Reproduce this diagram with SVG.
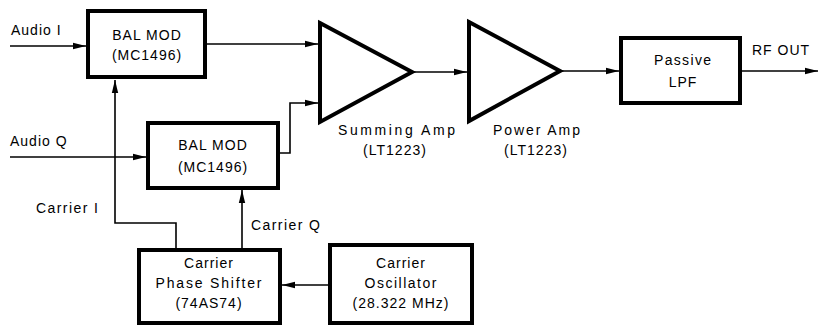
<svg xmlns="http://www.w3.org/2000/svg" width="819" height="326" viewBox="0 0 819 326">
<style>
.box{fill:#fff;stroke:#000;stroke-width:4}
.amp{fill:#fff;stroke:#000;stroke-width:4;stroke-linejoin:miter}
.w{fill:none;stroke:#000;stroke-width:1.6}
text{font-family:"Liberation Sans",Arial,sans-serif;font-size:14px;letter-spacing:1px;fill:#000}
.c{text-anchor:middle}
</style>
<defs>
<marker id="ah" markerWidth="13" markerHeight="8" refX="13" refY="4" orient="auto" markerUnits="userSpaceOnUse">
<path d="M0,0.8 L13,4 L0,7.2 Z" fill="#000"/>
</marker>
</defs>
<rect width="819" height="326" fill="#fff"/>
<g id="connectors">
<path class="w" d="M10,46 H86" marker-end="url(#ah)"/>
<path class="w" d="M10,157 H146" marker-end="url(#ah)"/>
<path class="w" d="M207,44 H318" marker-end="url(#ah)"/>
<path class="w" d="M280,153 H290 V103 H318" marker-end="url(#ah)"/>
<path class="w" d="M412,72 H467" marker-end="url(#ah)"/>
<path class="w" d="M560,71 H619" marker-end="url(#ah)"/>
<path class="w" d="M742,71 H818" marker-end="url(#ah)"/>
<path class="w" d="M176,248 V223 H115 V80" marker-end="url(#ah)"/>
<path class="w" d="M242,248 V190" marker-end="url(#ah)"/>
<path class="w" d="M329,285 H282" marker-end="url(#ah)"/>
</g>
<g id="balmod-i">
<rect class="box" x="88" y="11" width="117" height="66"/>
<text class="c" x="147" y="40">BAL MOD</text>
<text class="c" x="147" y="60">(MC1496)</text>
</g>
<g id="balmod-q">
<rect class="box" x="148" y="123" width="130" height="65"/>
<text class="c" x="213" y="150">BAL MOD</text>
<text class="c" x="213" y="172">(MC1496)</text>
</g>
<g id="summing-amp">
<path class="amp" d="M320,23 L412,72 L320,122 Z"/>
<text class="c" x="397" y="135" textLength="118" lengthAdjust="spacing">Summing Amp</text>
<text class="c" x="395" y="155">(LT1223)</text>
</g>
<g id="power-amp">
<path class="amp" d="M469,22 L560,71 L469,121 Z"/>
<text class="c" x="537" y="135" textLength="88" lengthAdjust="spacing">Power Amp</text>
<text class="c" x="536" y="155">(LT1223)</text>
</g>
<g id="lpf">
<rect class="box" x="621" y="38" width="119" height="65"/>
<text class="c" x="683" y="65" textLength="58" lengthAdjust="spacing">Passive</text>
<text class="c" x="683" y="87">LPF</text>
</g>
<g id="phase-shifter">
<rect class="box" x="139" y="250" width="141" height="73"/>
<text class="c" x="209" y="268">Carrier</text>
<text class="c" x="209" y="288" textLength="107" lengthAdjust="spacing">Phase Shifter</text>
<text class="c" x="209" y="308">(74AS74)</text>
</g>
<g id="oscillator">
<rect class="box" x="330" y="245" width="142" height="78"/>
<text class="c" x="401" y="268">Carrier</text>
<text class="c" x="401" y="288" textLength="73" lengthAdjust="spacing">Oscillator</text>
<text class="c" x="401" y="308">(28.322 MHz)</text>
</g>
<g id="labels">
<text x="11" y="35">Audio I</text>
<text x="10" y="146">Audio Q</text>
<text x="36" y="213" textLength="63" lengthAdjust="spacing">Carrier I</text>
<text x="251" y="230" textLength="70" lengthAdjust="spacing">Carrier Q</text>
<text x="752" y="55">RF OUT</text>
</g>
</svg>
